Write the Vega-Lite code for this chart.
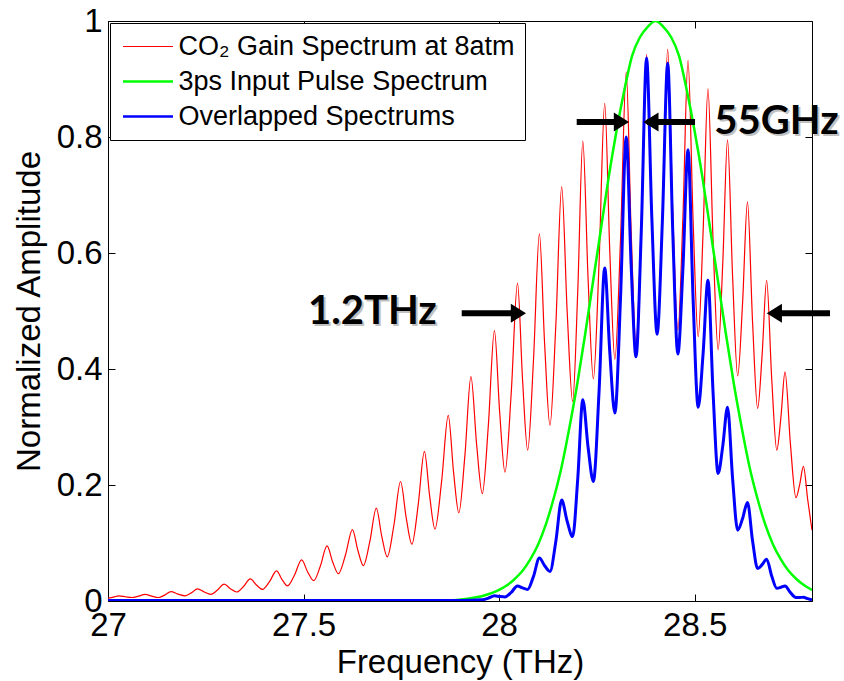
{
"$schema":"https://vega.github.io/schema/vega-lite/v6.json",
"width":704,"height":580,
"autosize":{"type":"none"},
"padding":{"left":108,"top":21,"right":32,"bottom":80},
"background":"white",
"config":{"view":{"stroke":null},"axis":{"domainColor":"black","tickColor":"black","labelColor":"black","titleColor":"black","grid":false,"labelFont":"Liberation Sans","titleFont":"Liberation Sans","labelFontSize":33,"titleFontSize":33,"titleFontWeight":"normal","tickSize":-7,"domainWidth":1,"tickWidth":1}},
"datasets":{
"red":[{"f":27.000,"a":0.005},{"f":27.014,"a":0.0067},{"f":27.028,"a":0.009},{"f":27.045,"a":0.0073},{"f":27.061,"a":0.006},{"f":27.078,"a":0.0083},{"f":27.095,"a":0.0115},{"f":27.112,"a":0.0083},{"f":27.129,"a":0.006},{"f":27.145,"a":0.0102},{"f":27.161,"a":0.016},{"f":27.179,"a":0.0119},{"f":27.197,"a":0.009},{"f":27.213,"a":0.014},{"f":27.229,"a":0.021},{"f":27.246,"a":0.0155},{"f":27.263,"a":0.0115},{"f":27.280,"a":0.0189},{"f":27.297,"a":0.029},{"f":27.313,"a":0.0212},{"f":27.329,"a":0.0155},{"f":27.3465,"a":0.025},{"f":27.364,"a":0.038},{"f":27.3795,"a":0.0276},{"f":27.395,"a":0.020},{"f":27.413,"a":0.0334},{"f":27.431,"a":0.052},{"f":27.445,"a":0.0369},{"f":27.459,"a":0.026},{"f":27.477,"a":0.0449},{"f":27.495,"a":0.071},{"f":27.5105,"a":0.0501},{"f":27.526,"a":0.035},{"f":27.543,"a":0.0602},{"f":27.560,"a":0.095},{"f":27.5745,"a":0.0672},{"f":27.589,"a":0.047},{"f":27.607,"a":0.0789},{"f":27.625,"a":0.123},{"f":27.639,"a":0.087},{"f":27.653,"a":0.061},{"f":27.6695,"a":0.1026},{"f":27.686,"a":0.160},{"f":27.700,"a":0.1113},{"f":27.714,"a":0.076},{"f":27.731,"a":0.1306},{"f":27.748,"a":0.206},{"f":27.7625,"a":0.1434},{"f":27.777,"a":0.098},{"f":27.793,"a":0.1652},{"f":27.809,"a":0.258},{"f":27.8225,"a":0.1803},{"f":27.836,"a":0.124},{"f":27.853,"a":0.2063},{"f":27.870,"a":0.320},{"f":27.8835,"a":0.2226},{"f":27.897,"a":0.152},{"f":27.9125,"a":0.2507},{"f":27.928,"a":0.387},{"f":27.9425,"a":0.2698},{"f":27.957,"a":0.185},{"f":27.9725,"a":0.303},{"f":27.988,"a":0.466},{"f":28.0015,"a":0.3245},{"f":28.015,"a":0.222},{"f":28.031,"a":0.359},{"f":28.047,"a":0.548},{"f":28.060,"a":0.381},{"f":28.073,"a":0.26},{"f":28.088,"a":0.4167},{"f":28.103,"a":0.633},{"f":28.1165,"a":0.4416},{"f":28.130,"a":0.303},{"f":28.145,"a":0.4756},{"f":28.160,"a":0.714},{"f":28.174,"a":0.4994},{"f":28.188,"a":0.344},{"f":28.201,"a":0.5326},{"f":28.214,"a":0.793},{"f":28.2275,"a":0.5552},{"f":28.241,"a":0.383},{"f":28.2555,"a":0.5825},{"f":28.270,"a":0.858},{"f":28.283,"a":0.6022},{"f":28.296,"a":0.417},{"f":28.3105,"a":0.6249},{"f":28.325,"a":0.912},{"f":28.3375,"a":0.6406},{"f":28.350,"a":0.444},{"f":28.3635,"a":0.6532},{"f":28.377,"a":0.942},{"f":28.3905,"a":0.6624},{"f":28.404,"a":0.460},{"f":28.4175,"a":0.6662},{"f":28.431,"a":0.951},{"f":28.444,"a":0.6703},{"f":28.457,"a":0.467},{"f":28.470,"a":0.6623},{"f":28.483,"a":0.932},{"f":28.496,"a":0.6559},{"f":28.509,"a":0.456},{"f":28.5215,"a":0.6353},{"f":28.534,"a":0.883},{"f":28.547,"a":0.622},{"f":28.560,"a":0.433},{"f":28.572,"a":0.585},{"f":28.584,"a":0.795},{"f":28.597,"a":0.5589},{"f":28.610,"a":0.388},{"f":28.6225,"a":0.514},{"f":28.635,"a":0.688},{"f":28.648,"a":0.4815},{"f":28.661,"a":0.332},{"f":28.6725,"a":0.4248},{"f":28.684,"a":0.553},{"f":28.697,"a":0.3831},{"f":28.710,"a":0.260},{"f":28.7205,"a":0.3167},{"f":28.731,"a":0.395},{"f":28.745,"a":0.2691},{"f":28.759,"a":0.178},{"f":28.7685,"a":0.2007},{"f":28.778,"a":0.232},{"f":28.789,"a":0.175},{"f":28.800,"a":0.122}],
"green":[{"f":27.0,"a":0},{"f":27.85,"a":0.0005},{"f":27.92,"a":0.004},{"f":27.96,"a":0.009},{"f":28.00,"a":0.019},{"f":28.02,"a":0.027},{"f":28.04,"a":0.038},{"f":28.06,"a":0.052},{"f":28.08,"a":0.072},{"f":28.10,"a":0.098},{"f":28.12,"a":0.133},{"f":28.14,"a":0.178},{"f":28.16,"a":0.232},{"f":28.18,"a":0.30},{"f":28.20,"a":0.375},{"f":28.22,"a":0.46},{"f":28.24,"a":0.55},{"f":28.26,"a":0.64},{"f":28.28,"a":0.73},{"f":28.30,"a":0.81},{"f":28.32,"a":0.88},{"f":28.34,"a":0.94},{"f":28.36,"a":0.972},{"f":28.38,"a":0.99},{"f":28.40,"a":1.0},{"f":28.42,"a":0.99},{"f":28.44,"a":0.972},{"f":28.46,"a":0.94},{"f":28.48,"a":0.88},{"f":28.50,"a":0.81},{"f":28.52,"a":0.73},{"f":28.54,"a":0.64},{"f":28.56,"a":0.55},{"f":28.58,"a":0.46},{"f":28.60,"a":0.375},{"f":28.62,"a":0.30},{"f":28.64,"a":0.232},{"f":28.66,"a":0.178},{"f":28.68,"a":0.133},{"f":28.70,"a":0.098},{"f":28.72,"a":0.072},{"f":28.74,"a":0.052},{"f":28.76,"a":0.038},{"f":28.78,"a":0.027},{"f":28.80,"a":0.019}],
"blue":[{"f":27.0,"a":0.001},{"f":27.9,"a":0.001},{"f":27.93,"a":0.0015},{"f":27.957,"a":0.002},{"f":27.9725,"a":0.0049},{"f":27.988,"a":0.009},{"f":28.0015,"a":0.0078},{"f":28.015,"a":0.007},{"f":28.031,"a":0.015},{"f":28.047,"a":0.026},{"f":28.060,"a":0.0225},{"f":28.073,"a":0.020},{"f":28.088,"a":0.0427},{"f":28.103,"a":0.074},{"f":28.1165,"a":0.0607},{"f":28.130,"a":0.051},{"f":28.145,"a":0.1027},{"f":28.160,"a":0.174},{"f":28.174,"a":0.1375},{"f":28.188,"a":0.111},{"f":28.201,"a":0.2101},{"f":28.214,"a":0.347},{"f":28.2275,"a":0.2652},{"f":28.241,"a":0.206},{"f":28.2555,"a":0.3606},{"f":28.270,"a":0.574},{"f":28.283,"a":0.429},{"f":28.296,"a":0.324},{"f":28.3105,"a":0.5239},{"f":28.325,"a":0.800},{"f":28.3375,"a":0.5802},{"f":28.350,"a":0.421},{"f":28.3635,"a":0.6373},{"f":28.377,"a":0.936},{"f":28.3905,"a":0.66},{"f":28.404,"a":0.460},{"f":28.4175,"a":0.6561},{"f":28.431,"a":0.927},{"f":28.444,"a":0.6364},{"f":28.457,"a":0.426},{"f":28.470,"a":0.5738},{"f":28.483,"a":0.778},{"f":28.496,"a":0.5205},{"f":28.509,"a":0.334},{"f":28.5215,"a":0.426},{"f":28.534,"a":0.553},{"f":28.547,"a":0.3599},{"f":28.560,"a":0.220},{"f":28.572,"a":0.2679},{"f":28.584,"a":0.334},{"f":28.597,"a":0.211},{"f":28.610,"a":0.122},{"f":28.6225,"a":0.1422},{"f":28.635,"a":0.170},{"f":28.648,"a":0.1039},{"f":28.661,"a":0.056},{"f":28.6725,"a":0.0627},{"f":28.684,"a":0.072},{"f":28.697,"a":0.043},{"f":28.710,"a":0.022},{"f":28.7205,"a":0.0237},{"f":28.731,"a":0.026},{"f":28.745,"a":0.0144},{"f":28.759,"a":0.006},{"f":28.7685,"a":0.006},{"f":28.778,"a":0.0065},{"f":28.789,"a":0.004},{"f":28.8,"a":0.002}],
"shafts":[{"x1":27.9044,"x2":28.033,"y":0.496},{"x1":28.7183,"x2":28.8461,"y":0.496},{"x1":28.1984,"x2":28.2963,"y":0.826},{"x1":28.3782,"x2":28.5009,"y":0.826}],
"heads":[{"x":28.0494,"y":0.496,"d":"r"},{"x":28.7037,"y":0.496,"d":"l"},{"x":28.3127,"y":0.826,"d":"r"},{"x":28.3881,"y":0.826,"d":"l"}],
"notes":[{"t":"1.2THz","x":27.676,"y":0.498},{"t":"55GHz","x":28.709,"y":0.826}]
},
"layer":[
{"data":{"name":"red"},"mark":{"type":"line","interpolate":"monotone","strokeWidth":1.2,"clip":true},
"encoding":{
"x":{"field":"f","type":"quantitative","scale":{"domain":[27,28.8],"nice":false,"zero":false},"axis":{"orient":"bottom","values":[27,27.5,28,28.5],"format":"~g","title":"Frequency (THz)","labelPadding":15,"titlePadding":4,"labelFlush":false,"labelOverlap":false}},
"y":{"field":"a","type":"quantitative","scale":{"domain":[0,1],"nice":false,"zero":false},"axis":{"orient":"left","values":[0,0.2,0.4,0.6,0.8,1],"format":"~g","title":"Normalized Amplitude","labelPadding":13,"titlePadding":10,"labelFlush":false,"labelOverlap":false}},
"color":{"datum":"CO₂ Gain Spectrum at 8atm","type":"nominal","scale":{"domain":["CO₂ Gain Spectrum at 8atm","3ps Input Pulse Spectrum","Overlapped Spectrums"],"range":["#ff0000","#00ff00","#0000ff"]},
"legend":{"title":null,"orient":"top-left","offset":2,"fillColor":"white","strokeColor":"black","padding":10,"symbolType":"M-5,0L5,0","symbolSize":100,"symbolOffset":14.5,"labelOffset":17,"labelFontSize":27,"labelFont":"Liberation Sans","labelColor":"black","labelLimit":500,"rowPadding":7,"symbolStrokeWidth":2.5,"encode":{"symbols":{"update":{"strokeWidth":{"signal":"datum.label === 'CO₂ Gain Spectrum at 8atm' ? 1.2 : 2.5"}}}}}}
}},
{"data":{"name":"green"},"mark":{"type":"line","interpolate":"monotone","strokeWidth":2.5,"clip":true},
"encoding":{
"x":{"field":"f","type":"quantitative","scale":{"domain":[27,28.8],"nice":false,"zero":false},"axis":{"orient":"top","values":[27,27.5,28,28.5],"labels":false,"title":null}},
"y":{"field":"a","type":"quantitative","scale":{"domain":[0,1],"nice":false,"zero":false},"axis":{"orient":"right","values":[0,0.2,0.4,0.6,0.8,1],"labels":false,"title":null}},
"color":{"datum":"3ps Input Pulse Spectrum","type":"nominal"}
}},
{"data":{"name":"blue"},"mark":{"type":"line","interpolate":"monotone","strokeWidth":3,"clip":true},
"encoding":{
"x":{"field":"f","type":"quantitative","scale":{"domain":[27,28.8],"nice":false,"zero":false},"axis":null},
"y":{"field":"a","type":"quantitative","scale":{"domain":[0,1],"nice":false,"zero":false},"axis":null},
"color":{"datum":"Overlapped Spectrums","type":"nominal"}
}},
{"data":{"name":"shafts"},"mark":{"type":"rule","color":"black","strokeWidth":6},
"encoding":{
"x":{"field":"x1","type":"quantitative","scale":{"domain":[27,28.8],"nice":false,"zero":false},"axis":null},
"x2":{"field":"x2"},
"y":{"field":"y","type":"quantitative","scale":{"domain":[0,1],"nice":false,"zero":false},"axis":null}
}},
{"data":{"name":"heads"},"transform":[{"filter":"datum.d == 'r'"}],"mark":{"type":"point","filled":true,"opacity":1,"color":"black","shape":"M-0.8,-1L0.8,0L-0.8,1Z","size":361},
"encoding":{
"x":{"field":"x","type":"quantitative","scale":{"domain":[27,28.8],"nice":false,"zero":false},"axis":null},
"y":{"field":"y","type":"quantitative","scale":{"domain":[0,1],"nice":false,"zero":false},"axis":null}
}},
{"data":{"name":"heads"},"transform":[{"filter":"datum.d == 'l'"}],"mark":{"type":"point","filled":true,"opacity":1,"color":"black","shape":"M0.8,-1L-0.8,0L0.8,1Z","size":361},
"encoding":{
"x":{"field":"x","type":"quantitative","scale":{"domain":[27,28.8],"nice":false,"zero":false},"axis":null},
"y":{"field":"y","type":"quantitative","scale":{"domain":[0,1],"nice":false,"zero":false},"axis":null}
}},
{"data":{"name":"notes"},"mark":{"type":"text","font":"Lato","fontWeight":"bold","fontSize":40,"color":"#999999","opacity":0.6,"dx":2,"dy":2,"align":"center","baseline":"middle"},
"encoding":{
"x":{"field":"x","type":"quantitative","scale":{"domain":[27,28.8],"nice":false,"zero":false},"axis":null},
"y":{"field":"y","type":"quantitative","scale":{"domain":[0,1],"nice":false,"zero":false},"axis":null},
"text":{"field":"t"}
}},
{"data":{"name":"notes"},"mark":{"type":"text","font":"Lato","fontWeight":"bold","fontSize":40,"color":"black","align":"center","baseline":"middle"},
"encoding":{
"x":{"field":"x","type":"quantitative","scale":{"domain":[27,28.8],"nice":false,"zero":false},"axis":null},
"y":{"field":"y","type":"quantitative","scale":{"domain":[0,1],"nice":false,"zero":false},"axis":null},
"text":{"field":"t"}
}}
],
"resolve":{"axis":{"x":"independent","y":"independent"}}
}
